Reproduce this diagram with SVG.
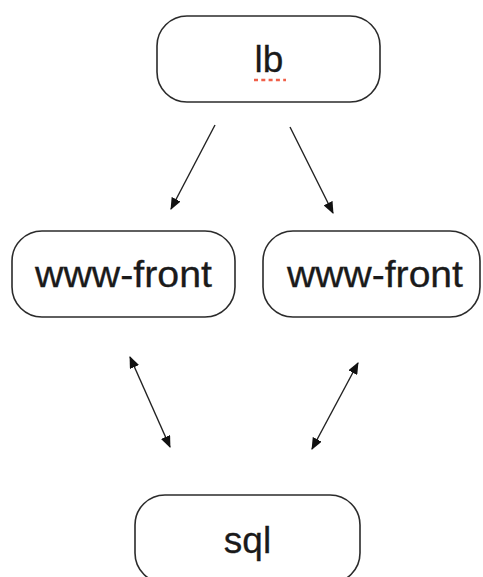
<svg xmlns="http://www.w3.org/2000/svg" width="483" height="577" viewBox="0 0 483 577">
  <style>
    .box { fill: #ffffff; stroke: #2b2b2b; stroke-width: 1.6; }
    .label { font-family: "Liberation Sans", Arial, sans-serif; font-size: 37px; fill: #1a1a1a; text-anchor: middle; stroke: #1a1a1a; stroke-width: 0.3; }
    .edge { stroke: #222222; stroke-width: 1.4; fill: none; }
  </style>
  <defs>
    <marker id="arrow" viewBox="0 0 12 10" refX="11" refY="5" markerWidth="12" markerHeight="10" markerUnits="userSpaceOnUse" orient="auto-start-reverse">
      <path d="M0,0 L12,5 L0,10 Z" fill="#111111"/>
    </marker>
  </defs>
  <rect width="483" height="577" fill="#ffffff"/>

  <g id="lb">
    <rect class="box" x="157" y="16" width="223" height="86" rx="30" ry="30"/>
    <text class="label" x="269" y="72">lb</text>
    <!-- spell-check style dotted underline -->
    <line x1="254" y1="80" x2="286" y2="80" stroke="#f0604a" stroke-width="2.6" stroke-dasharray="4,3.3"/>
  </g>

  <g id="www-front-1">
    <rect class="box" x="12" y="231" width="223" height="86" rx="30" ry="30"/>
    <text class="label" x="123.5" y="287" textLength="177" lengthAdjust="spacingAndGlyphs">www-front</text>
  </g>

  <g id="www-front-2">
    <rect class="box" x="263" y="231" width="217" height="86" rx="30" ry="30"/>
    <text class="label" x="375" y="287" textLength="176" lengthAdjust="spacingAndGlyphs">www-front</text>
  </g>

  <g id="sql">
    <rect class="box" x="135" y="495" width="225" height="88" rx="30" ry="30"/>
    <text class="label" x="247.5" y="553">sql</text>
  </g>

  <g id="connectors">
    <line class="edge" x1="215" y1="125" x2="171" y2="209" marker-end="url(#arrow)"/>
    <line class="edge" x1="290" y1="127" x2="333" y2="213" marker-end="url(#arrow)"/>
    <line class="edge" x1="130" y1="357" x2="170" y2="447" marker-start="url(#arrow)" marker-end="url(#arrow)"/>
    <line class="edge" x1="358" y1="363" x2="312" y2="449" marker-start="url(#arrow)" marker-end="url(#arrow)"/>
  </g>
</svg>
